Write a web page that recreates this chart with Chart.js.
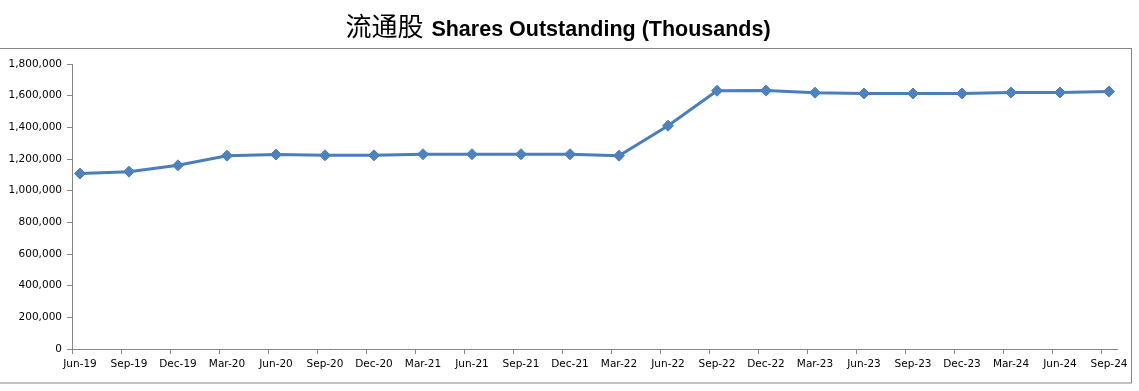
<!DOCTYPE html>
<html>
<head>
<meta charset="utf-8">
<script src="https://cdn.jsdelivr.net/npm/chart.js@4/dist/chart.umd.min.js"></script>
<style>
  html, body { margin: 0; padding: 0; background: #fff; }
  #wrap { width: 1139px; height: 391px; position: relative; }
</style>
</head>
<body>
<div id="wrap"><canvas id="sharesChart"></canvas></div>
<script>
// quarters on the x axis
const quarters = ['Jun-19', 'Sep-19', 'Dec-19', 'Mar-20', 'Jun-20', 'Sep-20', 'Dec-20', 'Mar-21',
    'Jun-21', 'Sep-21', 'Dec-21', 'Mar-22', 'Jun-22', 'Sep-22', 'Dec-22', 'Mar-23', 'Jun-23',
    'Sep-23', 'Dec-23', 'Mar-24', 'Jun-24', 'Sep-24'];

// shares outstanding, thousands
const sharesOutstanding = [1108000, 1120000, 1160000, 1221000, 1228000, 1223000, 1223000, 1230000,
    1230000, 1230000, 1230000, 1221000, 1410000, 1631000, 1632000, 1619000, 1614000,
    1614000, 1614000, 1620000, 1620000, 1626000];

const yTicks = [0, 200000, 400000, 600000, 800000, 1000000, 1200000, 1400000, 1600000, 1800000];

const titleCn = '流通股';
const titleEn = 'Shares Outstanding (Thousands)';

const tickShift = 0.163; // tick marks sit a bit left of each point, like the Excel original
const axisGrey = '#868686';
const labelFont = { family: '"DejaVu Sans", Tahoma, sans-serif', size: 10.5 };

const frameAndTitle = {
    id: 'frameAndTitle',
    beforeDraw(chart) {
        const c = chart.ctx;
        c.save();
        c.strokeStyle = axisGrey;
        c.lineWidth = 1;
        c.strokeRect(-1, 48.5, 1132.5, 334.5);

        // two-font title
        c.fillStyle = '#000';
        c.textBaseline = 'alphabetic';
        const cnFont = '26px "Noto Sans CJK SC"';
        const enFont = 'bold 21.5px "Liberation Sans", Arial, sans-serif';
        c.font = cnFont;
        const wCn = c.measureText(titleCn).width + 8;
        c.font = enFont;
        const wEn = c.measureText(titleEn).width;
        let x = 558 - (wCn + wEn) / 2;
        const y = 36;
        c.font = cnFont;
        c.fillText(titleCn, x, y);
        c.font = enFont;
        c.fillText(titleEn, x + wCn, y);
        c.restore();
    }
};

const ctx = document.getElementById('sharesChart').getContext('2d');
new Chart(ctx, {
    type: 'line',
    data: {
        datasets: [{
            label: titleEn,
            data: sharesOutstanding.map((v, i) => ({ x: i, y: v })),
            borderColor: '#4A7EBB',
            backgroundColor: '#4F81BD',
            pointBackgroundColor: '#4F81BD',
            pointBorderColor: '#4A7EBB',
            borderWidth: 3,
            pointStyle: 'rectRot',
            pointRadius: 5.5,
            pointBorderWidth: 1,
            tension: 0,
            fill: false
        }]
    },
    options: {
        responsive: true,
        maintainAspectRatio: false,
        animation: false,
        layout: { padding: { top: 64, right: 22, bottom: 0, left: 0 } },
        plugins: {
            legend: { display: false },
            title: { display: false },
            tooltip: { enabled: false }
        },
        scales: {
            x: {
                type: 'linear',
                min: -tickShift,
                max: 21.163,
                afterBuildTicks: (scale) => {
                    scale.ticks = quarters.map((q, i) => ({ value: i - tickShift }));
                },
                afterFit: (scale) => { scale.height = 42; },
                grid: { drawOnChartArea: false, drawTicks: true, tickLength: 5, color: axisGrey },
                border: { display: true, color: axisGrey },
                ticks: {
                    autoSkip: false,
                    maxRotation: 0,
                    labelOffset: 8,
                    padding: 4,
                    color: '#000',
                    font: labelFont,
                    callback: (v, i) => quarters[i]
                }
            },
            y: {
                min: 0,
                max: 1800000,
                afterBuildTicks: (scale) => {
                    scale.ticks = yTicks.map(v => ({ value: v }));
                },
                afterFit: (scale) => { scale.width = 72; },
                grid: { drawOnChartArea: false, drawTicks: true, tickLength: 5, color: axisGrey },
                border: { display: true, color: axisGrey },
                ticks: {
                    padding: 5,
                    color: '#000',
                    font: labelFont,
                    callback: (v) => v.toLocaleString('en-US')
                }
            }
        }
    },
    plugins: [frameAndTitle]
});
</script>
</body>
</html>
